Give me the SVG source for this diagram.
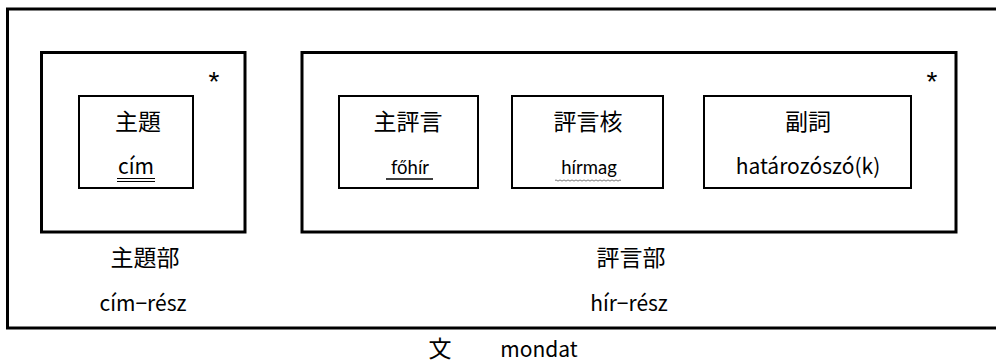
<svg xmlns="http://www.w3.org/2000/svg" width="996" height="363" viewBox="0 0 996 363">
<style>
.thick{fill:none;stroke:#000;stroke-width:3}
.thin{fill:none;stroke:#000;stroke-width:2}
.jp{font-family:"Noto Sans CJK JP","Noto Sans",sans-serif;font-size:23px;fill:#000;text-anchor:middle}
.lt{font-family:"Noto Sans CJK JP","Liberation Sans",sans-serif;font-size:21px;fill:#000;text-anchor:middle}
.cal{font-family:Lato,"Open Sans",sans-serif;font-size:18.5px;fill:#000;text-anchor:middle}
.star{font-family:"Liberation Sans",sans-serif;font-size:28px;fill:#000;text-anchor:middle}
</style>
<rect width="996" height="363" fill="#fff"/>
<g id="mondat">
<rect class="thick" x="7.5" y="9" width="1000" height="319"/>
<text class="jp" x="440" y="357">文</text>
<text class="lt" x="539" y="357">mondat</text>
</g>
<g id="cim-resz">
<rect class="thick" x="41.5" y="52.5" width="203.5" height="179.5"/>
<text class="star" x="214" y="91">*</text>
<text class="jp" x="145" y="266">主題部</text>
<text class="lt" x="143" y="311">cím−rész</text>
</g>
<g id="cim">
<rect class="thin" x="79" y="96" width="114" height="92"/>
<text class="jp" x="138" y="130">主題</text>
<text class="lt" x="136" y="174">cím</text>
<line x1="117" y1="178.5" x2="155" y2="178.5" stroke="#000" stroke-width="1"/>
<line x1="117" y1="181.5" x2="155" y2="181.5" stroke="#000" stroke-width="1"/>
</g>
<g id="hir-resz">
<rect class="thick" x="302" y="52.5" width="654" height="179.5"/>
<text class="star" x="932" y="91">*</text>
<text class="jp" x="631" y="266">評言部</text>
<text class="lt" x="629" y="311">hír−rész</text>
</g>
<g id="fohir">
<rect class="thin" x="339" y="96" width="139" height="92"/>
<text class="jp" x="408" y="130">主評言</text>
<text class="cal" x="410" y="174">főhír</text>
<line x1="386" y1="179" x2="433" y2="179" stroke="#000" stroke-width="1.5"/>
</g>
<g id="hirmag">
<rect class="thin" x="512" y="96" width="151" height="92"/>
<text class="jp" x="588" y="130">評言核</text>
<text class="cal" x="589" y="174">hírmag</text>
<path d="M555 180.5 q1 -1.2 2 0 t2 0 t2 0 t2 0 t2 0 t2 0 t2 0 t2 0 t2 0 t2 0 t2 0 t2 0 t2 0 t2 0 t2 0 t2 0 t2 0 t2 0 t2 0 t2 0 t2 0 t2 0 t2 0 t2 0 t2 0 t2 0 t2 0 t2 0 t2 0 t2 0 t2 0 t2 0 t2 0" fill="none" stroke="#555" stroke-width="0.8"/>
</g>
<g id="hatarozoszo">
<rect class="thin" x="704" y="96" width="207" height="92"/>
<text class="jp" x="808" y="130">副詞</text>
<text class="lt" x="808" y="174">határozószó(k)</text>
</g>
<g id="connectors"/>
</svg>
